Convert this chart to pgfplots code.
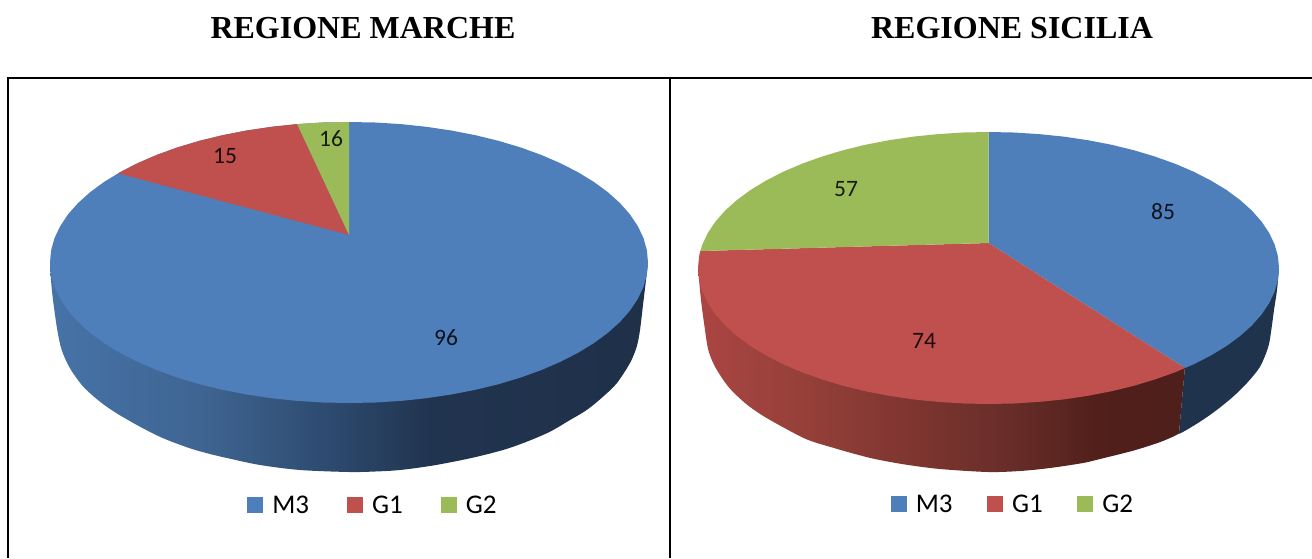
\documentclass[border=0pt]{standalone}
\usepackage{pgfplots}
\usepackage{fontspec}
\pgfplotsset{compat=1.18}
\setmainfont{Carlito}
\newfontfamily\titlefont{Liberation Serif}
\definecolor{pieblue}{HTML}{4F7FBB}
\definecolor{piered}{HTML}{C0504D}
\definecolor{piegreen}{HTML}{9BBB59}
\definecolor{walldark}{HTML}{20334D}
\definecolor{wba}{HTML}{4673A8}\definecolor{wbb}{HTML}{3F6592}\definecolor{wbc}{HTML}{2D4A6F}
\definecolor{wbd}{HTML}{21344F}\definecolor{wbe}{HTML}{1F3049}
\definecolor{wra}{HTML}{AB4543}\definecolor{wrb}{HTML}{964039}\definecolor{wrc}{HTML}{813631}
\definecolor{wrd}{HTML}{6A2E2A}\definecolor{wre}{HTML}{5E2722}\definecolor{wrf}{HTML}{521F1B}\definecolor{wrg}{HTML}{4E1F1B}
\pgfdeclarehorizontalshading{wallblue}{100bp}{
  color(0bp)=(wba); color(25bp)=(wba); color(37.5bp)=(wbb);
  color(48.4bp)=(wbc); color(56.8bp)=(wbd); color(75bp)=(wbe); color(100bp)=(wbe)}
\pgfdeclarehorizontalshading{wallred}{100bp}{
  color(0bp)=(wra); color(25bp)=(wra); color(35.5bp)=(wrb);
  color(45.7bp)=(wrc); color(56bp)=(wrd); color(61bp)=(wre);
  color(66bp)=(wrf); color(75bp)=(wrg); color(100bp)=(wrg)}
\pgfplotsset{
  piepanel/.style={
    hide axis, scale only axis, height=558pt, y dir=reverse,
    ymin=0, ymax=558, clip=false,
    legend columns=3,
    legend cell align=left,
    legend style={draw=none, fill=none, inner sep=0pt, outer sep=0pt, font=\fontsize{27}{27}\selectfont,
      /tikz/every odd column/.append style={column sep=7pt},
      /tikz/every even column/.append style={column sep=#1}},
    legend image code/.code={\path[##1] (0pt,-8pt) rectangle (16pt,8pt);},
  },
}
\tikzset{
  datalabel/.style={font=\fontsize{23.5}{24}\selectfont, text=black, text opacity=0.85, inner sep=0pt},
  titlelabel/.style={font=\titlefont\bfseries\fontsize{32}{34}\selectfont, inner sep=0pt},
}
\begin{document}
\begin{tikzpicture}[x=1pt,y=1pt]
\path[use as bounding box] (0,0) rectangle (1312,558);
% ------------------ REGIONE MARCHE
\begin{axis}[piepanel=36pt, at={(0pt,0pt)}, anchor=south west, width=669.5pt, xmin=0, xmax=669.5,
  legend style={at={(axis cs:373,505)}, anchor=center}]
\addlegendimage{fill=pieblue,draw=none}\addlegendentry{M3}
\addlegendimage{fill=piered,draw=none}\addlegendentry{G1}
\addlegendimage{fill=piegreen,draw=none}\addlegendentry{G2}
% frame
\addplot[black, line width=2pt, forget plot] coordinates {(8,558) (8,78) (669.5,78)};
\addplot[black, line width=2pt, forget plot] coordinates {(669.5,77) (669.5,558)};
% wall
\addplot[draw=none, shade, shading=wallblue, smooth, forget plot] coordinates {
 (50,262.5) (51,280) (53,300) (57.3,330) (61.7,350) (70,368.3) (83.3,386.7) (100,401.7) (116.7,413.3) (140,426.7) (163.3,438.3)
 (190,448.3) (210,454) (230,458.7) (260,465) (300,470) (349,472) (375,471.5) (400,470) (433,465.5) (470,458.3) (503,450)
 (526.7,441.7) (550,431.7) (570,420) (586.7,410) (603,396.7) (616.7,383.3) (630,363) (636.7,346.7) (640,330) (643,305) (646,280) (648,262.5)} -- cycle;
% top face
\addplot[fill=pieblue, draw=none, forget plot] coordinates {
 (648,262.5) (646.9,274.7) (643.5,286.9) (637.8,298.9) (630,310.6) (620,321.9) (607.9,332.8) (593.9,343.1) (578,352.8)
 (560.4,361.8) (541.2,370.1) (520.5,377.6) (498.5,384.2) (475.4,389.8) (451.3,394.5) (426.4,398.2) (400.9,400.9) (375.1,402.5)
 (349,403) (322.9,402.5) (297.1,400.9) (271.6,398.2) (246.7,394.5) (222.6,389.8) (199.5,384.2) (177.5,377.6) (156.8,370.1)
 (137.6,361.8) (120,352.8) (104.1,343.1) (90.1,332.8) (78,321.9) (68,310.6) (60.2,298.9) (54.5,286.9) (51.1,274.7)
 (50,262.5) (51.1,250.3) (54.5,238.1) (60.2,226.1) (68,214.4) (78,203.1) (90.1,192.2) (104.1,181.9) (120,172.2)
 (137.6,163.2) (156.8,154.9) (177.5,147.4) (199.5,140.8) (222.6,135.2) (246.7,130.5) (271.6,126.8) (297.1,124.1) (322.9,122.5)
 (349,122) (375.1,122.5) (400.9,124.1) (426.4,126.8) (451.3,130.5) (475.4,135.2) (498.5,140.8) (520.5,147.4) (541.2,154.9)
 (560.4,163.2) (578,172.2) (593.9,181.9) (607.9,192.2) (620,203.1) (630,214.4) (637.8,226.1) (643.5,238.1) (646.9,250.3)} -- cycle;
\addplot[fill=piered, draw=none, forget plot] coordinates {
 (349,235) (297.1,124.1) (271.6,126.8) (246.7,130.5) (222.6,135.2) (199.5,140.8) (177.5,147.4) (156.8,154.9) (137.6,163.2) (118,173.3)} -- cycle;
\addplot[fill=piegreen, draw=none, forget plot] coordinates {
 (349,235) (349,122) (322.9,122.5) (297.1,124.1)} -- cycle;
\node[datalabel] at (axis cs:446,338) {96};
\node[datalabel] at (axis cs:225,156) {15};
\node[datalabel] at (axis cs:331,139) {16};
\node[titlelabel] at (axis cs:363,28) {REGIONE MARCHE};
\end{axis}
% ------------------ REGIONE SICILIA
\begin{axis}[piepanel=32.5pt, at={(669.5pt,0pt)}, anchor=south west, width=642.5pt, xmin=669.5, xmax=1312,
  legend style={at={(axis cs:1013,504)}, anchor=center}]
\addlegendimage{fill=pieblue,draw=none}\addlegendentry{M3}
\addlegendimage{fill=piered,draw=none}\addlegendentry{G1}
\addlegendimage{fill=piegreen,draw=none}\addlegendentry{G2}
\addplot[black, line width=2pt, forget plot] coordinates {(669.5,78) (1312,78)};
% walls
\addplot[fill=walldark, draw=none, smooth, forget plot] coordinates {
 (1279,268) (1277,290) (1274,310) (1271.3,330) (1268.3,346.7) (1260,366.7) (1246.7,383.3) (1233,396.7) (1216.7,410) (1200,421.7)
 (1180,433.3) (1179.5,428) (1184.5,372) (1185,367)} -- cycle;
\addplot[draw=none, shade, shading=wallred, smooth, forget plot] coordinates {
 (698,268) (701,300) (705,330) (708.3,350) (715,366.7) (728.3,386.7) (745,403) (761.7,415) (785,428.3) (808.3,440) (835,448.3)
 (855,454) (875,459) (905,464.5) (940,469) (988,472) (1020,471) (1050,468) (1083,463) (1100,459) (1133,450.7) (1156.7,443.3)
 (1170,438) (1179,433.3) (1179.5,428) (1184.5,372) (1185,367)} -- cycle;
% top face
\addplot[fill=pieblue, draw=none, forget plot] coordinates {
 (988.5,243) (988.5,132) (1013.8,132.5) (1038.9,134.1) (1063.7,136.6) (1087.9,140.2) (1111.3,144.7) (1133.8,150.2) (1155.1,156.6)
 (1175.2,163.8) (1193.9,171.8) (1211,180.6) (1226.5,190) (1240.1,200) (1251.8,210.5) (1261.5,221.5) (1269.1,232.8) (1274.6,244.4)
 (1277.9,256.1) (1279,268) (1277.9,279.9) (1274.6,291.6) (1269.1,303.2) (1261.5,314.5) (1251.8,325.5) (1240.1,336) (1226.5,346)
 (1211,355.4) (1193.9,364.2) (1185,368)} -- cycle;
\addplot[fill=piered, draw=none, forget plot] coordinates {
 (988.5,243) (1185,368) (1175.2,372.2) (1155.1,379.4) (1133.8,385.8) (1111.3,391.3) (1087.9,395.8) (1063.7,399.4) (1038.9,401.9)
 (1013.8,403.5) (988.5,404) (963.2,403.5) (938.1,401.9) (913.3,399.4) (889.1,395.8) (865.7,391.3) (843.2,385.8) (821.9,379.4)
 (801.8,372.2) (783.1,364.2) (766,355.4) (750.5,346) (736.9,336) (725.2,325.5) (715.5,314.5) (707.9,303.2) (702.4,291.6)
 (699.1,279.9) (698,268) (699.1,256.1) (700.3,251)} -- cycle;
\addplot[fill=piegreen, draw=none, forget plot] coordinates {
 (988.5,243) (700.3,251) (702.4,244.4) (707.9,232.8) (715.5,221.5) (725.2,210.5) (736.9,200) (750.5,190) (766,180.6) (783.1,171.8)
 (801.8,163.8) (821.9,156.6) (843.2,150.2) (865.7,144.7) (889.1,140.2) (913.3,136.6) (938.1,134.1) (963.2,132.5) (988.5,132)} -- cycle;
\node[datalabel] at (axis cs:1163,212) {85};
\node[datalabel] at (axis cs:924,341) {74};
\node[datalabel] at (axis cs:846,189) {57};
\node[titlelabel] at (axis cs:1012,28) {REGIONE SICILIA};
\end{axis}
\end{tikzpicture}
\end{document}
